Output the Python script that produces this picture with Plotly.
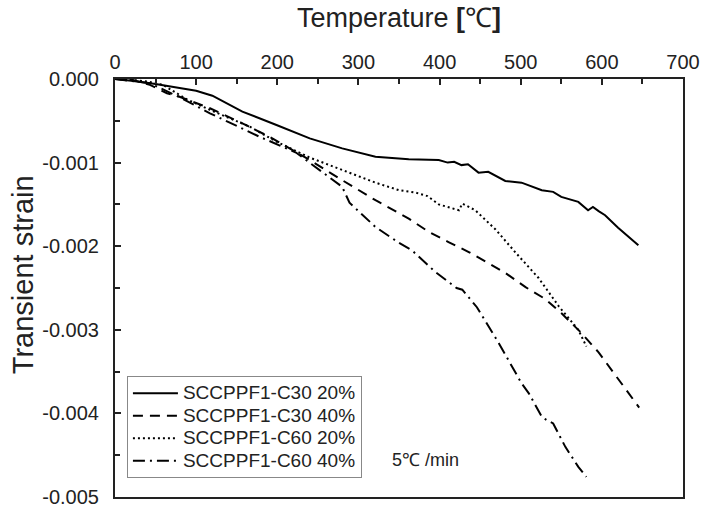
import plotly.graph_objects as go

# ---- data ----
t_c30_20 = [0, 20, 50, 76, 100, 120, 157, 199, 240, 280, 321, 362, 399, 410, 418, 427, 435,
            448, 460, 481, 501, 526, 540, 550, 571, 583, 589, 596, 604, 620, 645]
s_c30_20 = [0, -0.00002, -0.00006, -0.0001, -0.00014, -0.0002, -0.00039, -0.00055, -0.00071,
            -0.00083, -0.00093, -0.00096, -0.00097, -0.001, -0.00099, -0.00103, -0.00102,
            -0.00112, -0.00111, -0.00122, -0.00124, -0.00133, -0.00135, -0.00141, -0.00147,
            -0.00157, -0.00153, -0.00158, -0.00163, -0.00178, -0.00199]

t_c30_40 = [18, 43, 64, 76, 117, 157, 190, 240, 280, 321, 362, 387, 411, 436, 458, 481, 506,
            530, 550, 575, 596, 612, 629, 646]
s_c30_40 = [0, -0.00007, -0.00017, -0.0002, -0.00035, -0.00053, -0.00069, -0.00097, -0.00121,
            -0.00145, -0.00167, -0.00183, -0.00195, -0.00207, -0.00219, -0.00232, -0.00249,
            -0.00263, -0.0028, -0.00304, -0.00327, -0.00348, -0.0037, -0.00393]

t_c60_20 = [0, 20, 40, 59, 88, 117, 166, 199, 240, 280, 321, 350, 371, 385, 399, 424, 428,
            444, 469, 494, 522, 547, 571, 581]
s_c60_20 = [0, -0.00001, -0.00003, -0.00007, -0.00024, -0.00037, -0.00057, -0.00075, -0.00094,
            -0.00109, -0.00124, -0.00133, -0.00136, -0.0014, -0.0015, -0.00157, -0.00149,
            -0.00157, -0.0018, -0.00208, -0.00238, -0.00272, -0.003, -0.0032]

t_c60_40 = [0, 43, 80, 117, 178, 223, 280, 289, 321, 350, 366, 395, 421, 428, 446, 473, 501,
            510, 526, 532, 540, 555, 571, 581]
s_c60_40 = [0, -0.00005, -0.00022, -0.00041, -0.00069, -0.00088, -0.00129, -0.00148, -0.00177,
            -0.00196, -0.00205, -0.00231, -0.0025, -0.00252, -0.00273, -0.00316, -0.00364,
            -0.00376, -0.00404, -0.00408, -0.00412, -0.0044, -0.00464, -0.00476]

series_names = ["SCCPPF1-C30 20%", "SCCPPF1-C30 40%", "SCCPPF1-C60 20%", "SCCPPF1-C60 40%"]
x_tickvals = [0, 100, 200, 300, 400, 500, 600, 700]
y_tickvals = [0, -0.001, -0.002, -0.003, -0.004, -0.005]
y_ticktext = ["0.000", "-0.001", "-0.002", "-0.003", "-0.004", "-0.005"]

FONT = "Liberation Sans, Arial, Helvetica, sans-serif"

fig = go.Figure()
styles = [
    dict(color="black", width=2, dash="solid"),
    dict(color="black", width=2, dash="10px,7px"),
    dict(color="black", width=2, dash="2px,3px"),
    dict(color="black", width=2, dash="12px,5px,2px,5px"),
]
data = [(t_c30_20, s_c30_20), (t_c30_40, s_c30_40), (t_c60_20, s_c60_20), (t_c60_40, s_c60_40)]
for (tx, sy), name, st in zip(data, series_names, styles):
    fig.add_trace(go.Scatter(x=tx, y=sy, mode="lines",
                             name="<span style='font-size:19px'>" + name + "</span>",
                             line=st))

fig.update_layout(
    width=706, height=509,
    margin=dict(l=115, r=23, t=79, b=12),
    paper_bgcolor="white", plot_bgcolor="white",
    font=dict(family=FONT, color="#222", size=19),
    showlegend=True,
    legend=dict(x=0.021, y=0.2895, xanchor="left", yanchor="top",
                bordercolor="#888", borderwidth=1, bgcolor="white",
                font=dict(size=15, color="#222"), tracegroupgap=0, itemwidth=45),
    xaxis=dict(side="top", range=[0, 700], tickvals=x_tickvals, ticks="inside", ticklen=6,
               tickwidth=1.5, tickcolor="#222", showline=True, linewidth=2, linecolor="#222",
               mirror=True, showgrid=False, zeroline=False, tickfont=dict(size=20),
               automargin=False,
               minor=dict(dtick=50, ticks="inside", ticklen=5, tickwidth=1.5, tickcolor="#222",
                          showgrid=False)),
    yaxis=dict(range=[-0.005, 0], tickvals=y_tickvals, ticktext=y_ticktext, ticks="inside",
               ticklen=6, tickwidth=1.5, tickcolor="#222", showline=True, linewidth=2,
               linecolor="#222", mirror=True, showgrid=False, zeroline=False,
               tickfont=dict(size=20), automargin=False, ticklabelstandoff=10,
               minor=dict(dtick=0.0005, ticks="inside", ticklen=5, tickwidth=1.5,
                          tickcolor="#222", showgrid=False)),
    annotations=[
        dict(text="Temperature <b>[</b>℃<b>]</b>", xref="paper", yref="paper", x=0.5, y=1.146,
             xanchor="center", yanchor="middle", showarrow=False,
             font=dict(size=27, color="#222")),
        dict(text="Transient strain", xref="paper", yref="paper", x=-0.162, y=0.533,
             xanchor="center", yanchor="middle", textangle=-90, showarrow=False,
             font=dict(size=29, color="#222")),
        dict(text="5℃ /min", xref="paper", yref="paper", x=0.484, y=0.0885,
             xanchor="left", yanchor="middle", showarrow=False,
             font=dict(size=18, color="#222")),
    ],
)

fig.write_html("out.html")
